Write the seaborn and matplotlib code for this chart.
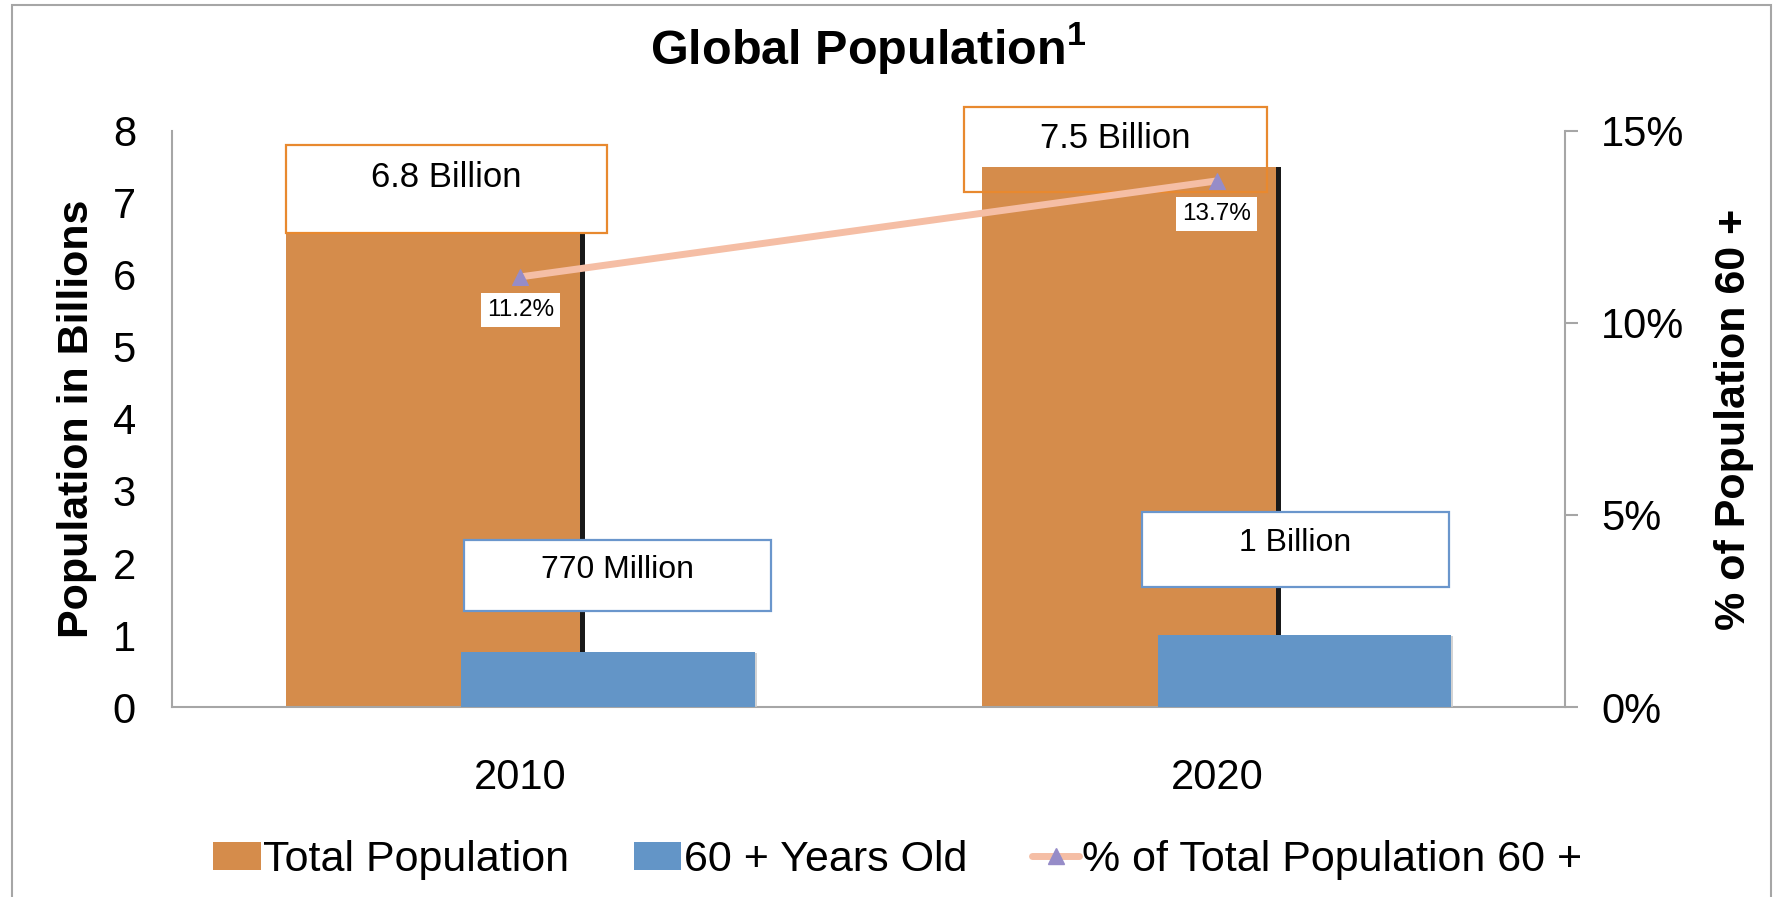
import numpy as np
import pandas as pd
import matplotlib
matplotlib.use("Agg")
import matplotlib.pyplot as plt
import seaborn as sns
from matplotlib import patheffects as pe
from matplotlib.patches import Rectangle, Patch
from matplotlib.lines import Line2D

# ---- data ----
years = ["2010", "2020"]
total_pop = [6.8, 7.5]          # billions
older_pop = [0.77, 1.0]         # billions, aged 60+
pct_older = [11.2, 13.7]        # % of total population aged 60+
total_labels = ["6.8 Billion", "7.5 Billion"]
older_labels = ["770 Million", "1 Billion"]
pct_labels = ["11.2%", "13.7%"]
left_ticks = [0, 1, 2, 3, 4, 5, 6, 7, 8]
right_ticks = [0, 5, 10, 15]
legend_labels = ["Total Population", "60 + Years Old", "% of Total Population 60 +"]

# ---- styling ----
ORANGE = "#D58C4B"
BLUE = "#6395C7"
LINE = "#F5BEA5"
MARKER = "#968CC8"
ORANGE_EDGE = "#E8892F"
BLUE_EDGE = "#6A96CC"
GRAY = "#A6A6A6"

sns.set_theme(style="white")
plt.rcParams["font.family"] = ["Liberation Sans", "DejaVu Sans"]
plt.rcParams["mathtext.fontset"] = "custom"
plt.rcParams["mathtext.bf"] = "Liberation Sans:bold"
plt.rcParams["mathtext.rm"] = "Liberation Sans"
plt.rcParams["text.color"] = "black"
plt.rcParams["axes.labelcolor"] = "black"
plt.rcParams["xtick.color"] = "black"
plt.rcParams["ytick.color"] = "black"

fig = plt.figure(figsize=(17.74, 8.97), dpi=100)
ax = fig.add_axes([0.0970, 0.2118, 0.7852, 0.6422])

BAR_W = 0.422
SHIFT = 0.126

df = pd.DataFrame({"year": years, "total": total_pop, "older": older_pop})

sns.barplot(data=df, x="year", y="total", color=ORANGE, width=BAR_W,
            saturation=1, linewidth=0, ax=ax, zorder=2)
n_total = len(ax.patches)
sns.barplot(data=df, x="year", y="older", color=BLUE, width=BAR_W,
            saturation=1, linewidth=0, ax=ax, zorder=3)

total_bars = ax.patches[:n_total]
older_bars = ax.patches[n_total:]
for p in total_bars:
    p.set_x(p.get_x() - SHIFT)
    p.set_path_effects([pe.SimplePatchShadow(offset=(3.6, 0), shadow_rgbFace="black", alpha=0.9),
                        pe.Normal()])
for p in older_bars:
    p.set_x(p.get_x() + SHIFT)
    p.set_path_effects([pe.SimplePatchShadow(offset=(1.2, -1.0), shadow_rgbFace="#c8c8c8", alpha=0.8),
                        pe.Normal()])

# label boxes: (dx from bar centre, width, y bottom, y top, text y, behind bars)
total_box_layout = [(0.020, 0.461, 6.58, 7.81, 7.36, False),
                    (-0.020, 0.435, 7.15, 8.33, 7.90, True)]
older_box_layout = [(0.014, 0.441, 1.33, 2.32, 1.90, False),
                    (-0.013, 0.441, 1.67, 2.71, 2.28, False)]


def draw_box(bar, layout, text, edge, size):
    dx, w, y0, y1, ty, behind = layout
    cx = bar.get_x() + bar.get_width() / 2 + dx
    if behind:
        ax.add_patch(Rectangle((cx - w / 2, y0), w, y1 - y0, facecolor="white",
                               edgecolor="none", zorder=1, clip_on=False))
        ax.add_patch(Rectangle((cx - w / 2, y0), w, y1 - y0, facecolor="none",
                               edgecolor=edge, lw=1.6, zorder=4, clip_on=False))
    else:
        ax.add_patch(Rectangle((cx - w / 2, y0), w, y1 - y0, facecolor="white",
                               edgecolor=edge, lw=1.6, zorder=4, clip_on=False))
    ax.text(cx, ty, text, ha="center", va="center", fontsize=size, color="black",
            zorder=5, clip_on=False)


for bar, lay, txt in zip(total_bars, total_box_layout, total_labels):
    draw_box(bar, lay, txt, ORANGE_EDGE, 25)
for bar, lay, txt in zip(older_bars, older_box_layout, older_labels):
    draw_box(bar, lay, txt, BLUE_EDGE, 23)

# ---- secondary axis: share of population aged 60+ ----
ax2 = ax.twinx()
x_pos = np.arange(len(years))
sns.lineplot(x=x_pos, y=pct_older, ax=ax2, color=LINE, lw=5, marker="^",
             markersize=11, markerfacecolor=MARKER, markeredgecolor=MARKER, zorder=5)
for xi, v, lab in zip(x_pos, pct_older, pct_labels):
    ax2.annotate(lab, (xi, v), xytext=(0, -24), textcoords="offset points",
                 ha="center", va="center", fontsize=17.5, color="black", zorder=6,
                 bbox=dict(boxstyle="square,pad=0.25", fc="white", ec="none"))

# ---- axes ----
ax.set_xlim(-0.5, 1.5)
ax.set_ylim(0, 8)
ax.set_yticks(left_ticks)
ax.set_yticklabels([str(t) for t in left_ticks])
ax2.set_ylim(0, 15)
ax2.set_yticks(right_ticks)
ax2.set_yticklabels([f"{t}%" for t in right_ticks])

for s in ["top", "right"]:
    ax.spines[s].set_visible(False)
for s in ["left", "bottom"]:
    ax.spines[s].set_color(GRAY)
    ax.spines[s].set_linewidth(1.5)
for s in ["top", "left", "bottom"]:
    ax2.spines[s].set_visible(False)
ax2.spines["right"].set_color(GRAY)
ax2.spines["right"].set_linewidth(1.5)

ax.tick_params(axis="y", length=0, pad=26, labelsize=30, labelcolor="black")
ax.tick_params(axis="x", length=0, pad=37, labelsize=30, labelcolor="black")
ax2.tick_params(axis="y", length=9, width=1.5, color=GRAY, pad=17, labelsize=30,
                labelcolor="black", direction="out")
ax.grid(False)
ax2.grid(False)

ax.set_xlabel("")
ax.set_ylabel("Population in Billions", fontsize=31, fontweight="bold", color="black")
ax.yaxis.set_label_coords(-0.054, 0.5)
ax2.set_ylabel("% of Population 60 +", fontsize=31, fontweight="bold", color="black")
ax2.yaxis.set_label_coords(1.107, 0.5)

fig.text(868 / 1774, 1 - 47.5 / 897, r"Global Population$^{\mathbf{1}}$",
         ha="center", va="center", fontsize=35, fontweight="bold", color="black")

# ---- legend ----
handles = [Patch(facecolor=ORANGE, edgecolor="none"),
           Patch(facecolor=BLUE, edgecolor="none"),
           Line2D([], [], color=LINE, lw=5, marker="^", markersize=11,
                  markerfacecolor=MARKER, markeredgecolor=MARKER)]
fig.legend(handles, legend_labels, loc="center", bbox_to_anchor=(0.506, 1 - 860 / 897),
           ncol=3, frameon=False, fontsize=31, handlelength=1.1, handleheight=0.65,
           handletextpad=0.06, columnspacing=1.5, labelcolor="black")

# outer frame
fig.add_artist(Rectangle((12 / 1774, -0.05), (1771 - 12) / 1774, 1 - 5 / 897 + 0.05,
                         transform=fig.transFigure, fill=False, ec=GRAY, lw=1.5))

fig.savefig("out.png", dpi=100)
